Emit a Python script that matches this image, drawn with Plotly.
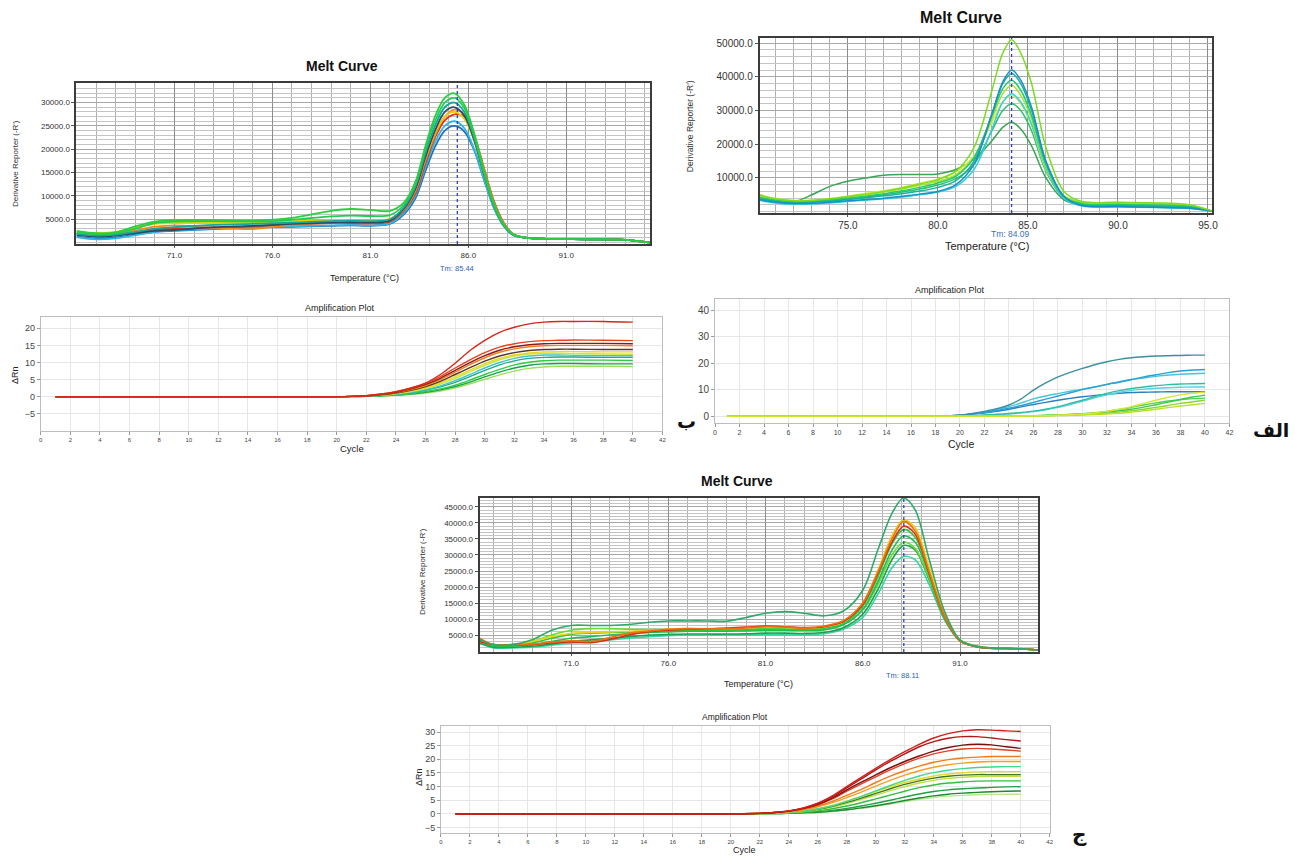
import plotly.graph_objects as go

W, H = 1302, 857

# ---------------- Panel A1: top-left melt curve ----------------
A1_TEMP = [66, 67, 68, 69, 70, 71, 73, 75, 77, 79, 80, 81, 82, 82.7, 83.3, 83.8, 84.3, 84.8, 85.3, 85.8,
           86.3, 86.8, 87.3, 87.8, 88.3, 89, 90, 92, 94, 95.3]
A1_GREEN1 = [2500, 2000, 2200, 3500, 4500, 4800, 4800, 4700, 5300, 6800, 7200, 7000, 6800, 8500, 13000, 20500, 27000, 31000, 32000, 29500,
             23500, 15500, 8500, 4000, 1800, 1000, 800, 700, 600, 0]
A1_GREEN2 = [2200, 1800, 2000, 3000, 4200, 4500, 4600, 4500, 4900, 5600, 5800, 5700, 5900, 8000, 12500, 20000, 26000, 30000, 31000, 28800,
             23000, 15000, 8200, 3900, 1700, 1000, 800, 700, 600, 0]
A1_TEAL = [1800, 1500, 1700, 2300, 3000, 3300, 3800, 4000, 4300, 4600, 4700, 4600, 5000, 7500, 12000, 19000, 25000, 29000, 30000, 28000,
           22500, 14800, 8000, 3800, 1700, 1000, 800, 700, 600, 0]
A1_DARK = [1600, 1300, 1500, 2000, 2500, 2700, 3300, 3600, 4000, 4300, 4400, 4300, 4700, 7200, 11500, 18200, 24000, 28000, 29000, 27200,
           22000, 14600, 8000, 3800, 1700, 1000, 800, 700, 600, 0]
A1_ORANGE = [2000, 1700, 1900, 2600, 3400, 3700, 3200, 2900, 3800, 4300, 4400, 4300, 4700, 7000, 11000, 17500, 23000, 27000, 28500, 27500,
             23000, 15800, 8800, 4200, 1800, 1000, 800, 700, 600, 0]
A1_YELLOW = [2300, 2000, 2300, 3200, 4000, 4200, 4300, 4200, 4600, 4800, 4800, 4700, 5100, 7300, 11500, 18000, 23500, 27000, 28000, 26500,
             21800, 14500, 8000, 3800, 1700, 1000, 800, 700, 600, 0]
A1_RED = [1700, 1500, 1700, 2200, 2800, 3000, 3200, 3500, 3900, 4200, 4200, 4100, 4500, 6800, 10500, 16800, 22500, 26200, 27500, 27000,
          23000, 16000, 9000, 4300, 1800, 1000, 800, 700, 600, 0]
A1_CYAN = [1200, 700, 900, 1600, 2300, 2600, 3000, 3300, 3500, 3700, 3800, 3700, 4100, 6300, 10000, 16000, 21500, 25000, 26000, 24500,
           20000, 13500, 7500, 3600, 1600, 1000, 800, 700, 600, 0]
A1_BLUE = [1300, 900, 1100, 1700, 2300, 2500, 2900, 3200, 3400, 3600, 3700, 3600, 4000, 6000, 9500, 15200, 20500, 24000, 25000, 23800,
           19800, 13500, 7600, 3600, 1600, 1000, 800, 700, 600, 0]
A1_TM = 85.44

# ---------------- Panel A2: top-right melt curve ----------------
A2_TEMP = [70.1, 71, 72, 73, 74, 75, 76, 77, 78, 79, 80, 81, 82, 83, 83.6, 84.1, 84.6, 85.2, 86, 87, 88, 90, 92, 94, 95.2]
A2_LIME_TOP = [5000, 3800, 3200, 3300, 3800, 4500, 5200, 6000, 7000, 8200, 9500, 12000, 19000, 36000, 47000, 51000, 47000, 38000, 19000, 6000, 3000, 2800, 2600, 2000, 300]
A2_BLUE = [3500, 2800, 2400, 2500, 2800, 3200, 3600, 4000, 4600, 5200, 6000, 8000, 14000, 29000, 38500, 42000, 39000, 31000, 15000, 4500, 1800, 1500, 1300, 1000, 200]
A2_TEAL = [3800, 3000, 2600, 2800, 3100, 3600, 4100, 4700, 5300, 6100, 7200, 9200, 15000, 29000, 38000, 41000, 38000, 30000, 14500, 4500, 2000, 1800, 1600, 1200, 200]
A2_GREEN = [4200, 3400, 2900, 3100, 3500, 4000, 4600, 5300, 6200, 7200, 8500, 10500, 16000, 28500, 36500, 39000, 36000, 28500, 14000, 4500, 2400, 2200, 2000, 1500, 200]
A2_LIME = [4500, 3600, 3100, 3300, 3700, 4300, 5000, 5800, 6700, 7800, 9000, 11000, 16000, 27500, 35000, 37500, 34500, 27500, 13500, 4800, 2800, 2600, 2400, 1800, 200]
A2_CYAN = [3300, 2600, 2200, 2300, 2600, 3000, 3400, 3800, 4300, 5000, 5800, 7500, 12500, 24500, 32500, 35000, 32500, 26000, 13000, 4000, 1700, 1400, 1200, 900, 150]
A2_YGREEN = [4800, 3900, 3300, 3400, 3900, 4600, 5400, 6200, 7200, 8400, 9700, 11800, 16500, 26500, 32500, 34500, 32000, 25500, 12500, 4500, 2900, 2700, 2500, 1900, 200]
A2_SEA = [4000, 3200, 2700, 2900, 3300, 3800, 4400, 5000, 5800, 6700, 7900, 9800, 14000, 24000, 30000, 32000, 30000, 24000, 12000, 4000, 2200, 2000, 1800, 1400, 200]
A2_OUTLIER = [4500, 3500, 3000, 5000, 7500, 9000, 10000, 10800, 11000, 11000, 11200, 12500, 15500, 21000, 25000, 26500, 24500, 19500, 10000, 3500, 2000, 1800, 1600, 1300, 200]
A2_TM = 84.09

# ---------------- Panel B1: middle-left amplification ----------------
B1_CYCLE = [1, 18, 20, 21, 22, 23, 24, 25, 26, 27, 28, 29, 30, 31, 32, 33, 34, 35, 36, 38, 40]
B1_RED_TOP = [0, 0, 0, 0.1, 0.3, 0.8, 1.5, 2.6, 4.0, 6.5, 9.8, 13.5, 16.5, 18.8, 20.3, 21.3, 21.8, 22.0, 22.0, 22.0, 21.8]
B1_RED2 = [0, 0, 0, 0.1, 0.3, 0.8, 1.5, 2.5, 3.9, 5.9, 8.4, 10.8, 12.9, 14.5, 15.5, 16.1, 16.4, 16.5, 16.6, 16.5, 16.4]
B1_DARKRED = [0, 0, 0, 0.1, 0.3, 0.7, 1.3, 2.3, 3.6, 5.4, 7.7, 10.0, 12.0, 13.6, 14.6, 15.2, 15.5, 15.6, 15.6, 15.6, 15.5]
B1_ORANGE = [0, 0, 0, 0.1, 0.3, 0.7, 1.2, 2.1, 3.3, 5.0, 7.2, 9.4, 11.4, 13.0, 14.0, 14.6, 14.9, 15.0, 15.0, 15.0, 14.9]
B1_BROWN = [0, 0, 0, 0.1, 0.2, 0.6, 1.1, 1.9, 3.0, 4.5, 6.5, 8.5, 10.4, 11.9, 12.9, 13.5, 13.8, 13.9, 13.9, 13.8, 13.8]
B1_YELLOW = [0, 0, 0, 0.1, 0.2, 0.5, 1.0, 1.7, 2.7, 4.1, 5.9, 7.8, 9.7, 11.2, 12.2, 12.8, 13.1, 13.2, 13.2, 13.1, 13.1]
B1_YGREEN = [0, 0, 0, 0.1, 0.2, 0.5, 0.9, 1.5, 2.4, 3.7, 5.4, 7.3, 9.2, 10.8, 11.9, 12.5, 12.7, 12.7, 12.6, 12.5, 12.4]
B1_CYAN = [0, 0, 0, 0.1, 0.2, 0.4, 0.8, 1.3, 2.1, 3.2, 4.7, 6.5, 8.4, 10.0, 11.2, 11.9, 12.2, 12.2, 12.1, 12.0, 12.0]
B1_TEAL = [0, 0, 0, 0.1, 0.2, 0.4, 0.7, 1.2, 1.9, 2.9, 4.2, 5.9, 7.7, 9.3, 10.5, 11.2, 11.5, 11.6, 11.6, 11.5, 11.5]
B1_GREEN = [0, 0, 0, 0.05, 0.1, 0.3, 0.5, 0.9, 1.5, 2.3, 3.4, 4.9, 6.5, 8.0, 9.3, 10.1, 10.5, 10.7, 10.7, 10.7, 10.6]
B1_DKGREEN = [0, 0, 0, 0.05, 0.1, 0.3, 0.5, 0.8, 1.3, 2.0, 3.0, 4.3, 5.8, 7.2, 8.4, 9.2, 9.6, 9.7, 9.7, 9.6, 9.6]
B1_LIME = [0, 0, 0, 0.05, 0.1, 0.2, 0.4, 0.7, 1.1, 1.7, 2.6, 3.8, 5.1, 6.4, 7.5, 8.3, 8.7, 8.9, 8.9, 8.9, 8.8]

# ---------------- Panel B2: middle-right amplification ----------------
B2_CYCLE = [1, 18, 19, 20, 21, 22, 23, 24, 25, 26, 27, 28, 29, 30, 31, 32, 33, 34, 35, 36, 37, 38, 39, 40]
B2_DKTEAL = [0, 0, 0.1, 0.4, 1.0, 1.8, 2.8, 4.2, 6.5, 9.8, 12.5, 14.8, 16.5, 18.0, 19.4, 20.5, 21.4, 22.0, 22.4, 22.7, 22.8, 22.9, 23.0, 23.0]
B2_BLUE1 = [0, 0, 0.1, 0.3, 0.8, 1.4, 2.1, 3.0, 4.0, 5.2, 6.4, 7.6, 8.8, 10.0, 11.0, 12.0, 12.8, 13.8, 14.8, 15.6, 16.4, 17.0, 17.4, 17.6]
B2_CYAN1 = [0, 0, 0.1, 0.3, 0.8, 1.5, 2.5, 3.6, 5.0, 6.5, 7.6, 8.5, 9.4, 10.2, 11.0, 12.0, 13.0, 13.8, 14.4, 15.0, 15.5, 15.8, 16.0, 16.2]
B2_TEALGREEN = [0, 0, 0, 0.1, 0.2, 0.4, 0.7, 1.0, 1.4, 1.9, 2.6, 3.6, 4.8, 6.0, 7.4, 8.6, 9.6, 10.4, 11.0, 11.5, 11.9, 12.1, 12.2, 12.3]
B2_BLUE2 = [0, 0, 0.1, 0.3, 0.7, 1.2, 1.8, 2.6, 3.5, 4.4, 5.2, 6.0, 6.7, 7.3, 7.8, 8.2, 8.6, 8.9, 9.0, 9.1, 9.2, 9.2, 9.2, 9.2]
B2_CYAN2 = [0, 0, 0, 0.1, 0.2, 0.3, 0.5, 0.8, 1.2, 1.7, 2.4, 3.3, 4.4, 5.6, 6.9, 8.0, 9.0, 9.7, 10.2, 10.5, 10.7, 10.9, 11.0, 11.0]
B2_GREEN1 = [0, 0, 0, 0, 0, 0, 0, 0.1, 0.1, 0.2, 0.3, 0.4, 0.6, 0.8, 1.1, 1.5, 2.0, 2.6, 3.4, 4.3, 5.3, 6.3, 7.2, 7.9]
B2_GREEN2 = [0, 0, 0, 0, 0, 0, 0, 0, 0.1, 0.1, 0.2, 0.3, 0.4, 0.6, 0.8, 1.1, 1.5, 2.0, 2.6, 3.3, 4.0, 4.8, 5.4, 6.0]
B2_LIME = [0, 0, 0, 0, 0, 0, 0, 0, 0, 0.1, 0.1, 0.2, 0.3, 0.4, 0.6, 0.8, 1.1, 1.5, 2.0, 2.6, 3.2, 3.8, 4.3, 4.8]
B2_YGREEN = [0, 0, 0, 0, 0, 0, 0, 0, 0.1, 0.1, 0.2, 0.3, 0.5, 0.8, 1.2, 1.8, 2.6, 3.6, 4.8, 6.0, 7.1, 8.0, 8.6, 9.0]
B2_GREEN3 = [0, 0, 0, 0, 0, 0, 0, 0.05, 0.1, 0.15, 0.25, 0.4, 0.6, 0.9, 1.3, 1.8, 2.5, 3.3, 4.2, 5.0, 5.7, 6.2, 6.6, 6.8]

# ---------------- Panel C1: bottom melt curve ----------------
C1_TEMP = [66.3, 67, 68, 69, 70, 71, 72, 73, 74, 75, 76, 77, 78, 79, 80, 81, 82, 83, 84, 85,
           86, 86.8, 87.5, 88.1, 88.7, 89.4, 90.2, 91, 92, 94, 95]
C1_OUTLIER = [3500, 2000, 2000, 3500, 6500, 8000, 8000, 8000, 8300, 9000, 9400, 9400, 9400, 9300, 10500, 11800, 12300, 11800, 11000, 12500,
              19000, 32000, 43000, 47800, 44000, 29000, 12500, 3500, 1300, 800, 300]
C1_ORANGE = [4000, 2000, 2000, 2200, 2800, 3200, 3000, 4200, 5600, 6300, 6800, 7000, 6900, 7000, 7200, 7600, 7500, 7200, 7800, 9500,
             15000, 25000, 35000, 40500, 37500, 25000, 11000, 3200, 1200, 700, 300]
C1_RED = [3000, 2000, 2000, 2000, 2500, 2800, 2600, 3600, 5000, 6000, 6500, 6800, 6900, 7200, 7500, 7800, 7600, 7300, 7600, 9200,
          14500, 24500, 34000, 39000, 36500, 24500, 10800, 3200, 1200, 700, 300]
C1_YELLOW = [3000, 2000, 2000, 3000, 4500, 5500, 5800, 6000, 6200, 6500, 6800, 7000, 7000, 7100, 7200, 7500, 7400, 7200, 7500, 9200,
             15000, 25500, 36000, 41000, 38500, 26500, 11800, 3500, 1300, 700, 300]
C1_GREEN1 = [3500, 1800, 1800, 2500, 4000, 5200, 5600, 5800, 6000, 6200, 6400, 6500, 6500, 6500, 6600, 6800, 6800, 6700, 7000, 8600,
             14000, 23500, 33500, 38000, 35500, 25000, 11200, 3400, 1300, 700, 300]
C1_GREEN2 = [3000, 1500, 1500, 2000, 3000, 4000, 4500, 5000, 5400, 5800, 6000, 6200, 6200, 6200, 6300, 6500, 6500, 6400, 6600, 8200,
             13000, 22000, 31500, 36000, 34000, 24000, 10800, 3300, 1200, 700, 300]
C1_LIME = [3800, 1800, 1800, 3000, 5000, 6500, 7000, 7000, 6800, 6700, 6700, 6800, 6800, 6800, 6900, 7000, 7000, 6900, 7100, 8400,
           12800, 21000, 30000, 34000, 32000, 23000, 10500, 3300, 1200, 700, 300]
C1_GREEN3 = [2500, 1200, 1200, 1500, 2200, 3000, 3500, 4000, 4500, 5000, 5200, 5300, 5300, 5300, 5400, 5600, 5600, 5500, 5800, 7300,
             11500, 19500, 28500, 33000, 31500, 22500, 10200, 3200, 1200, 700, 300]
C1_CYANGREEN = [2500, 1000, 1000, 1200, 1800, 2500, 3000, 3500, 4000, 4500, 4800, 5000, 5000, 5000, 5100, 5200, 5200, 5100, 5400, 6800,
                10500, 18000, 26000, 29500, 28500, 21000, 9800, 3100, 1200, 700, 300]
C1_TM = 88.11

# ---------------- Panel C2: bottom amplification ----------------
C2_CYCLE = [1, 20, 22, 23, 24, 25, 26, 27, 28, 29, 30, 31, 32, 33, 34, 35, 36, 37, 38, 39, 40]
C2_RED_TOP = [0, 0, 0.2, 0.5, 1.1, 2.2, 3.9, 6.6, 10.0, 13.4, 16.7, 19.9, 22.8, 25.5, 27.8, 29.4, 30.4, 30.8, 30.7, 30.4, 30.2]
C2_RED2 = [0, 0, 0.2, 0.5, 1.1, 2.1, 3.8, 6.3, 9.5, 12.8, 16.1, 19.2, 22.0, 24.6, 26.5, 27.7, 28.3, 28.3, 27.8, 27.2, 26.7]
C2_DARKRED = [0, 0, 0.2, 0.5, 1.0, 2.0, 3.5, 5.8, 8.8, 11.6, 14.3, 16.9, 19.2, 21.2, 23.0, 24.3, 25.2, 25.5, 25.3, 24.6, 24.0]
C2_RED4 = [0, 0, 0.2, 0.5, 1.0, 1.9, 3.3, 5.5, 8.3, 11.0, 13.6, 16.1, 18.4, 20.4, 22.0, 23.1, 23.8, 24.0, 23.8, 23.4, 23.0]
C2_ORANGE = [0, 0, 0.2, 0.4, 0.9, 1.7, 2.9, 4.6, 6.8, 9.0, 11.5, 13.8, 15.8, 17.5, 18.9, 19.9, 20.5, 20.8, 21.0, 21.0, 21.0]
C2_ORANGE2 = [0, 0, 0.2, 0.4, 0.8, 1.5, 2.6, 4.1, 6.0, 8.0, 10.2, 12.3, 14.2, 15.8, 17.1, 18.0, 18.6, 19.0, 19.2, 19.2, 19.2]
C2_GREENCYAN = [0, 0, 0.1, 0.3, 0.6, 1.1, 1.9, 3.0, 4.6, 6.4, 8.4, 10.4, 12.3, 13.9, 15.1, 16.0, 16.6, 17.0, 17.2, 17.3, 17.3]
C2_YELLOW = [0, 0, 0.1, 0.3, 0.6, 1.1, 1.9, 3.1, 4.7, 6.4, 8.2, 9.9, 11.5, 12.8, 13.9, 14.6, 15.1, 15.4, 15.5, 15.5, 15.5]
C2_OLIVE = [0, 0, 0.1, 0.3, 0.6, 1.0, 1.7, 2.8, 4.2, 5.8, 7.5, 9.2, 10.8, 12.1, 13.1, 13.8, 14.2, 14.4, 14.4, 14.4, 14.4]
C2_YGREEN = [0, 0, 0.1, 0.2, 0.5, 0.9, 1.5, 2.5, 3.8, 5.3, 6.9, 8.5, 10.0, 11.3, 12.3, 13.0, 13.4, 13.7, 13.8, 13.8, 13.8]
C2_GREEN = [0, 0, 0.1, 0.2, 0.4, 0.7, 1.2, 1.9, 2.9, 4.1, 5.5, 6.9, 8.3, 9.6, 10.6, 11.3, 11.7, 12.0, 12.1, 12.1, 12.1]
C2_GREEN2 = [0, 0, 0.1, 0.1, 0.3, 0.5, 0.8, 1.3, 2.0, 2.9, 3.9, 5.0, 6.2, 7.3, 8.2, 8.8, 9.2, 9.5, 9.7, 9.9, 10.0]
C2_DKGREEN = [0, 0, 0.1, 0.1, 0.2, 0.4, 0.6, 1.0, 1.5, 2.2, 3.0, 3.9, 4.9, 5.8, 6.6, 7.2, 7.6, 7.9, 8.1, 8.3, 8.4]
C2_LIGHTLIME = [0, 0, 0.1, 0.1, 0.2, 0.3, 0.5, 0.9, 1.4, 2.0, 2.8, 3.6, 4.5, 5.3, 6.0, 6.5, 6.8, 7.0, 7.1, 7.2, 7.2]

# ---------------- Text ----------------
MELT_TITLE = "Melt Curve"
AMP_TITLE = "Amplification Plot"
TEMP_LABEL = "Temperature (°C)"
DERIV_LABEL = "Derivative Reporter (-R')"
CYCLE_LABEL = "Cycle"
DRN_LABEL = "ΔRn"
LETTER_A = "الف"
LETTER_B = "ب"
LETTER_C = "ج"

FONT = "Liberation Sans"


def xd(left, right):
    return [left / W, right / W]


def yd(top, bottom):
    return [1 - bottom / H, 1 - top / H]


def px(x, y):
    return x / W, 1 - y / H


fig = go.Figure()


def add_lines(xs, series, ax, width, smoothing=0.9):
    for ys, color in series:
        fig.add_trace(go.Scatter(
            x=xs, y=ys, mode="lines", xaxis="x" + ax, yaxis="y" + ax,
            line=dict(color=color, width=width, shape="spline", smoothing=smoothing),
            hoverinfo="skip", showlegend=False))


add_lines(A1_TEMP, [
    (A1_BLUE, "#1f6fbf"), (A1_CYAN, "#2ab8e6"), (A1_RED, "#e0301e"), (A1_ORANGE, "#f08a1c"),
    (A1_YELLOW, "#e6d000"), (A1_DARK, "#2c4a66"), (A1_TEAL, "#12a89a"), (A1_GREEN2, "#22cc55"),
    (A1_GREEN1, "#2ecc40")], "", 1.8)

add_lines(A2_TEMP, [
    (A2_OUTLIER, "#3aa655"), (A2_SEA, "#2fbf71"), (A2_YGREEN, "#d4e84a"), (A2_CYAN, "#30d0e0"),
    (A2_LIME, "#a6e22e"), (A2_GREEN, "#22cc66"), (A2_TEAL, "#1ab0a0"), (A2_BLUE, "#1b8fc8"),
    (A2_LIME_TOP, "#7ddc1f")], "2", 1.5)

add_lines(B1_CYCLE, [
    (B1_LIME, "#9be05a"), (B1_DKGREEN, "#16a34a"), (B1_GREEN, "#2ecc40"), (B1_TEAL, "#1fa88a"),
    (B1_CYAN, "#3cc8c8"), (B1_YGREEN, "#c8e640"), (B1_YELLOW, "#e8d81f"), (B1_BROWN, "#5a3a2a"),
    (B1_ORANGE, "#f07f1e"), (B1_DARKRED, "#8b1a1a"), (B1_RED2, "#e8431c"), (B1_RED_TOP, "#d62718")],
    "3", 1.4, 0.6)

add_lines(B2_CYCLE, [
    (B2_BLUE2, "#2a80c0"), (B2_CYAN2, "#5ad0e0"), (B2_TEALGREEN, "#2fbfa0"), (B2_CYAN1, "#45c4dc"),
    (B2_BLUE1, "#2a9fd6"), (B2_DKTEAL, "#3d8fa0"), (B2_GREEN3, "#55d055"), (B2_GREEN1, "#3cc84a"),
    (B2_GREEN2, "#8fd630"), (B2_LIME, "#b5e61d"), (B2_YGREEN, "#d8e830")], "4", 1.4, 0.6)

add_lines(C1_TEMP, [
    (C1_CYANGREEN, "#30d8a0"), (C1_GREEN3, "#1aa050"), (C1_LIME, "#66dd33"), (C1_GREEN2, "#22bb55"),
    (C1_GREEN1, "#30c83a"), (C1_YELLOW, "#e8d21a"), (C1_RED, "#d83018"), (C1_ORANGE, "#f07010"),
    (C1_OUTLIER, "#2eaa6a")], "5", 1.6)

add_lines(C2_CYCLE, [
    (C2_LIGHTLIME, "#b8e890"), (C2_DKGREEN, "#1a8a30"), (C2_GREEN2, "#20a040"), (C2_GREEN, "#30c040"),
    (C2_YGREEN, "#c0e040"), (C2_OLIVE, "#3a7a20"), (C2_YELLOW, "#e8d820"), (C2_GREENCYAN, "#40d890"),
    (C2_ORANGE2, "#f5a020"), (C2_ORANGE, "#f07d1a"), (C2_RED4, "#e0402a"), (C2_DARKRED, "#7a1010"),
    (C2_RED2, "#b01818"), (C2_RED_TOP, "#d0201a")], "6", 1.4, 0.6)


def melt_axes(xdom, ydom, xr, yr, xtv, ytv, yminor, fsize):
    xa = dict(domain=xdom, range=xr, tickmode="array", tickvals=xtv, tickformat=".1f",
              showgrid=True, gridcolor="#8c8c8c", gridwidth=1,
              minor=dict(tickmode="linear", tick0=0, dtick=1, showgrid=True, gridcolor="#b0b0b0", gridwidth=1, ticks=""),
              showline=True, linecolor="#3c3c3c", linewidth=2, mirror=True,
              ticks="outside", ticklen=2, tickcolor="#555", zeroline=False,
              tickfont=dict(family=FONT, size=fsize, color="#333"))
    ya = dict(domain=ydom, range=yr, tickmode="array", tickvals=ytv, tickformat=".1f",
              showgrid=True, gridcolor="#a8a8a8", gridwidth=1,
              minor=dict(tickmode="linear", tick0=0, dtick=yminor, showgrid=True, gridcolor="#c4c4c4", gridwidth=1, ticks=""),
              showline=True, linecolor="#3c3c3c", linewidth=2, mirror=True,
              ticks="outside", ticklen=3, tickcolor="#555", zeroline=False,
              tickfont=dict(family=FONT, size=fsize, color="#333"))
    return xa, ya


def amp_axes(xdom, ydom, yr, ytv, xfs, yfs):
    xa = dict(domain=xdom, range=[0, 42], tickmode="linear", tick0=0, dtick=2,
              showgrid=True, gridcolor="#e6e6e6", showline=True, linecolor="#bdbdbd",
              linewidth=1, mirror=True, ticks="outside", ticklen=3, tickcolor="#999",
              zeroline=False, tickfont=dict(family=FONT, size=xfs, color="#444"))
    ya = dict(domain=ydom, range=yr, tickmode="array", tickvals=ytv,
              showgrid=True, gridcolor="#e6e6e6", showline=True, linecolor="#bdbdbd",
              linewidth=1, mirror=True, ticks="outside", ticklen=3, tickcolor="#999",
              zeroline=False, tickfont=dict(family=FONT, size=yfs, color="#444"))
    return xa, ya


x1, y1 = melt_axes(xd(75, 653), yd(83, 244), [66.0, 95.3], [-300, 34200],
                   [71, 76, 81, 86, 91], [5000, 10000, 15000, 20000, 25000, 30000], 1000, 8)
x2, y2 = melt_axes(xd(763, 1218), yd(38, 213), [70.1, 95.2], [-400, 51500],
                   [75, 80, 85, 90, 95], [10000, 20000, 30000, 40000, 50000], 2000, 10)
x5, y5 = melt_axes(xd(481, 1043), yd(498, 652), [66.3, 95.0], [-300, 47800],
                   [71, 76, 81, 86, 91], [5000, 10000, 15000, 20000, 25000, 30000, 35000, 40000, 45000], 1000, 8)
x3, y3 = amp_axes(xd(39, 665), yd(317, 431), [-10, 23.3], [-5, 0, 5, 10, 15, 20], 6, 9)
x4, y4 = amp_axes(xd(718, 1236), yd(299, 423), [-2.6, 44.2], [0, 10, 20, 30, 40], 7, 10)
x6, y6 = amp_axes(xd(442, 1055), yd(726, 833), [-7, 32.2], [-5, 0, 5, 10, 15, 20, 25, 30], 6, 9)

for key, a in [("xaxis", x1), ("xaxis2", x2), ("xaxis3", x3), ("xaxis4", x4), ("xaxis5", x5), ("xaxis6", x6)]:
    a["anchor"] = "y" + key[5:]
for key, a in [("yaxis", y1), ("yaxis2", y2), ("yaxis3", y3), ("yaxis4", y4), ("yaxis5", y5), ("yaxis6", y6)]:
    a["anchor"] = "x" + key[5:]

fig.update_layout(
    width=W, height=H, margin=dict(l=0, r=0, t=0, b=0),
    paper_bgcolor="white", plot_bgcolor="white", showlegend=False,
    xaxis=x1, yaxis=y1, xaxis2=x2, yaxis2=y2, xaxis3=x3, yaxis3=y3,
    xaxis4=x4, yaxis4=y4, xaxis5=x5, yaxis5=y5, xaxis6=x6, yaxis6=y6,
)

# Tm dotted lines
for ax, tm in [("", A1_TM), ("2", A2_TM), ("5", C1_TM)]:
    fig.add_shape(type="line", xref="x" + ax, yref=("y" + ax + " domain"), x0=tm, x1=tm, y0=0, y1=1,
                  line=dict(color="#2a3fbf", width=1.3, dash="dot"))


def text(s, x, y, size, bold=False, color="#111", angle=0, family=FONT):
    xx, yy = px(x, y)
    fig.add_annotation(text=("<b>%s</b>" % s) if bold else s, x=xx, y=yy, xref="paper", yref="paper",
                       showarrow=False, xanchor="center", yanchor="middle", textangle=angle,
                       font=dict(family=family, size=size, color=color))


# Panel A1 texts
text(MELT_TITLE, 342, 66, 14, bold=True)
text(TEMP_LABEL, 365, 278, 9, color="#222")
text("Tm: %.2f" % A1_TM, 458, 268, 7.5, color="#2a5fbf")
text(DERIV_LABEL, 13, 163, 8, color="#333", angle=-90)

# Panel A2 texts
text(MELT_TITLE, 966, 17, 16, bold=True)
text(TEMP_LABEL, 992, 246, 11, color="#222")
text("Tm: %.2f" % A2_TM, 1016, 234, 8.5, color="#3a70b8")
text(DERIV_LABEL, 693, 126, 8.5, color="#333", angle=-90)

# Panel C1 texts
text(MELT_TITLE, 740, 481, 14, bold=True)
text(TEMP_LABEL, 762, 684, 9, color="#222")
text("Tm: %.2f" % C1_TM, 907, 675, 7.5, color="#2a5fbf")
text(DERIV_LABEL, 423, 572, 8, color="#333", angle=-90)

# Amplification titles
text(AMP_TITLE, 340, 308, 9, color="#222")
text(CYCLE_LABEL, 352, 448, 9.5, color="#222")
text(DRN_LABEL, 13, 375, 9, color="#222", angle=-90)

text(AMP_TITLE, 955, 290, 9, color="#222")
text(CYCLE_LABEL, 966, 444, 10.5, color="#222")

text(AMP_TITLE, 738, 717, 8.5, color="#222")
text(CYCLE_LABEL, 748, 850, 9, color="#222")
text(DRN_LABEL, 420, 777, 9, color="#222", angle=-90)

# Arabic panel letters
text(LETTER_A, 1278, 430, 19, bold=True, color="#111", family="DejaVu Sans")
text(LETTER_B, 689, 421, 19, bold=True, color="#111", family="DejaVu Sans")
text(LETTER_C, 1085, 834, 20, bold=True, color="#111", family="DejaVu Sans")

fig.write_html("out.html", config={"displayModeBar": False},
               post_script="document.body.style.margin='0';document.body.style.overflow='hidden';")
